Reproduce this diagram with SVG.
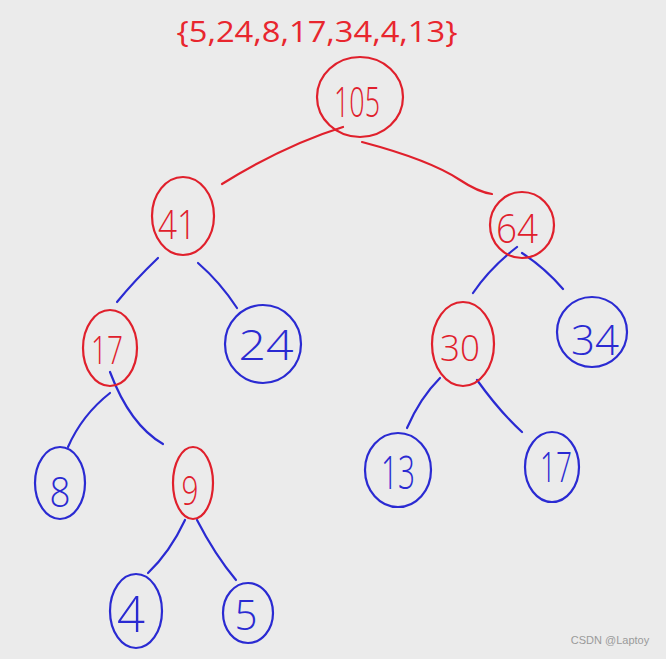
<svg xmlns="http://www.w3.org/2000/svg" width="666" height="659" viewBox="0 0 666 659">
<style>
.r{fill:none;stroke:#e0202c;stroke-width:2.2;stroke-linecap:round}
.b{fill:none;stroke:#2a2ad2;stroke-width:2.2;stroke-linecap:round}
.tr{fill:#e0202c;font-family:"Open Sans","Liberation Sans",sans-serif;font-weight:300;text-anchor:middle}
.tb{fill:#2a2ad2;font-family:"Open Sans","Liberation Sans",sans-serif;font-weight:300;text-anchor:middle}
</style>
<rect width="666" height="659" fill="#ebebeb"/>
<text x="317" y="42" font-family="'Open Sans','Liberation Sans',sans-serif" font-size="30" fill="#e8262e" textLength="281" lengthAdjust="spacingAndGlyphs" text-anchor="middle">{5,24,8,17,34,4,13}</text>
<g id="edges">
<path class="r" d="M222,184 Q285,145 343,127"/>
<path class="r" d="M362,142 Q430,160 460,180 Q478,192 492,194"/>
<path class="b" d="M158,258 Q135,280 117,302"/>
<path class="b" d="M198,263 Q220,282 237,308"/>
<path class="b" d="M517,247 Q490,268 473,293"/>
<path class="b" d="M522,253 Q545,268 563,289"/>
<path class="b" d="M110,393 Q82,415 68,447"/>
<path class="b" d="M110,372 Q130,425 163,444"/>
<path class="b" d="M185,520 Q170,552 148,573"/>
<path class="b" d="M197,520 Q215,555 236,580"/>
<path class="b" d="M440,378 Q420,398 407,428"/>
<path class="b" d="M477,380 Q500,412 522,432"/>
</g>
<g id="n105"><ellipse class="r" cx="360" cy="97" rx="43" ry="40"/><text class="tr" x="357" y="117" font-size="42" textLength="46" lengthAdjust="spacingAndGlyphs">105</text></g>
<g id="n41"><ellipse class="r" cx="183" cy="216" rx="31" ry="39"/><text class="tr" x="177" y="239" font-size="40" textLength="38" lengthAdjust="spacingAndGlyphs">41</text></g>
<g id="n64"><ellipse class="r" cx="522" cy="225" rx="32" ry="33"/><text class="tr" x="517" y="243" font-size="40" textLength="42" lengthAdjust="spacingAndGlyphs">64</text></g>
<g id="n17a"><ellipse class="r" cx="110" cy="348" rx="27" ry="38"/><text class="tr" x="107" y="364" font-size="38" textLength="32" lengthAdjust="spacingAndGlyphs">17</text></g>
<g id="n24"><ellipse class="b" cx="263" cy="344" rx="38" ry="39"/><text class="tb" x="266" y="360" font-size="42" textLength="55" lengthAdjust="spacingAndGlyphs">24</text></g>
<g id="n30"><ellipse class="r" cx="463" cy="344" rx="31" ry="42"/><text class="tr" x="460" y="361" font-size="36" textLength="40" lengthAdjust="spacingAndGlyphs">30</text></g>
<g id="n34"><ellipse class="b" cx="592" cy="332" rx="35" ry="35"/><text class="tb" x="595" y="355" font-size="42" textLength="48" lengthAdjust="spacingAndGlyphs">34</text></g>
<g id="n8"><ellipse class="b" cx="60" cy="483" rx="25" ry="36"/><text class="tb" x="60" y="507" font-size="42" textLength="21" lengthAdjust="spacingAndGlyphs">8</text></g>
<g id="n9"><ellipse class="r" cx="193" cy="483" rx="20" ry="36"/><text class="tr" x="190" y="505" font-size="40" textLength="17" lengthAdjust="spacingAndGlyphs">9</text></g>
<g id="n4"><ellipse class="b" cx="136" cy="611" rx="26" ry="37"/><text class="tb" x="131" y="632" font-size="50" textLength="28" lengthAdjust="spacingAndGlyphs">4</text></g>
<g id="n5"><ellipse class="b" cx="248" cy="613" rx="25" ry="30"/><text class="tb" x="246" y="630" font-size="42" textLength="23" lengthAdjust="spacingAndGlyphs">5</text></g>
<g id="n13"><ellipse class="b" cx="398" cy="470" rx="33" ry="37"/><text class="tb" x="398" y="489" font-size="46" textLength="34" lengthAdjust="spacingAndGlyphs">13</text></g>
<g id="n17b"><ellipse class="b" cx="552" cy="467" rx="27" ry="35"/><text class="tb" x="556" y="482" font-size="42" textLength="32" lengthAdjust="spacingAndGlyphs">17</text></g>
<text x="610" y="644" font-family="'Liberation Sans',sans-serif" font-size="11" fill="#9a9a9a" text-anchor="middle">CSDN @Laptoy</text>
</svg>
